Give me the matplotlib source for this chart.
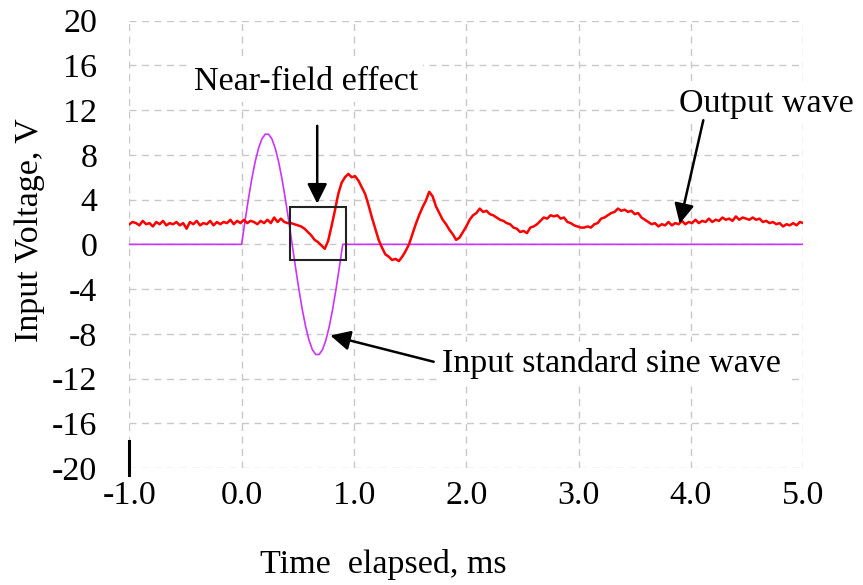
import matplotlib
matplotlib.use("Agg")
import matplotlib.pyplot as plt
import matplotlib.patches as patches
import numpy as np

out_start = -1.0
out_step = 0.03
output_wave = [
    # -1.00 .. -0.01
    1.8, 2.0, 1.9, 1.7, 2.1, 1.8, 1.9, 1.6, 2.0, 1.8,
    2.1, 1.7, 1.9, 1.8, 2.0, 1.7, 1.9, 1.4, 2.0, 1.8,
    2.1, 1.7, 1.9, 1.8, 2.1, 1.7, 2.0, 1.8, 2.0, 1.9,
    2.2, 1.8, 2.1, 1.9,
    # 0.02 .. 0.44
    2.2, 1.9, 2.1, 2.0, 1.8, 2.1, 1.9, 2.2, 1.9, 2.4,
    2.0, 2.3, 2.0, 1.9, 1.9,
    # 0.47 .. 2.30
    1.8, 1.7, 1.6, 1.4, 1.1, 0.8, 0.4, 0.2, -0.1, -0.4,
    0.3, 1.6, 3.0, 4.5, 5.5, 6.0, 6.3, 6.0, 6.1, 5.7,
    5.1, 4.5, 3.5, 2.4, 1.4, 0.4, -0.3, -0.9, -1.1, -1.4,
    -1.3, -1.5, -1.1, -0.6, 0.0, 0.9, 1.8, 2.6, 3.3, 3.9,
    4.7, 4.3, 3.4, 2.8, 2.2, 1.8, 1.3, 0.9, 0.4, 0.6,
    1.1, 1.6, 2.2, 2.6, 2.8, 3.2, 2.9, 3.0, 2.7, 2.6,
    2.4, 2.2,
    # 2.33 .. 5.00
    2.1, 1.9, 1.8, 1.5, 1.4, 1.1, 1.2, 1.0, 1.5, 1.6,
    1.8, 2.1, 2.4, 2.3, 2.6, 2.5, 2.6, 2.3, 2.4, 2.0,
    1.9, 1.7, 1.6, 1.5, 1.5, 1.6, 1.5, 1.8, 1.9, 2.3,
    2.4, 2.6, 2.8, 2.9, 3.2, 3.0, 3.1, 2.9, 3.0, 2.7,
    2.8, 2.4, 2.2, 2.0, 1.8, 1.9, 1.6, 1.8, 1.7, 2.0,
    1.7, 1.9, 1.8, 2.1, 1.8, 2.0, 1.9, 2.2, 1.9, 2.1,
    2.0, 2.3, 2.0, 2.2, 2.1, 2.4, 2.2, 2.3, 2.1, 2.5,
    2.2, 2.4, 2.3, 2.2, 2.4, 2.2, 2.3, 2.0, 2.1, 1.9,
    2.0, 1.8, 1.9, 1.6, 1.8, 1.7, 1.9, 1.7, 2.0, 1.9,
]

# input standard sine wave (one cycle, ~0.9 ms)
input_time = [
    -1.0,
    0.00, 0.03, 0.06, 0.09, 0.12, 0.15, 0.18, 0.21, 0.24, 0.27,
    0.30, 0.33, 0.36, 0.39, 0.42, 0.45, 0.48, 0.51, 0.54, 0.57,
    0.60, 0.63, 0.66, 0.69, 0.72, 0.75, 0.78, 0.81, 0.84, 0.87,
    0.90,
    5.0,
]
input_wave = [
    0.0,
    0.0, 2.06, 4.03, 5.82, 7.36, 8.57, 9.42, 9.85, 9.85, 9.42,
    8.57, 7.36, 5.82, 4.03, 2.06, 0.0, -2.06, -4.03, -5.82, -7.36,
    -8.57, -9.42, -9.85, -9.85, -9.42, -8.57, -7.36, -5.82, -4.03, -2.06,
    0.0,
    0.0,
]

x_ticks = [-1.0, 0.0, 1.0, 2.0, 3.0, 4.0, 5.0]
y_ticks = [-20, -16, -12, -8, -4, 0, 4, 8, 12, 16, 20]

plt.rcParams["font.family"] = ["Liberation Serif", "DejaVu Serif"]
plt.rcParams["axes.unicode_minus"] = False

FS = 24.5
fig = plt.figure(figsize=(8.63, 5.85), dpi=100)
ax = fig.add_axes([0.1498, 0.2, 0.781, 0.7646])

t_out = out_start + out_step * np.arange(len(output_wave))

ax.plot(input_time, input_wave, color="#CC33FF", lw=1.2, zorder=3)
ax.plot(t_out, output_wave, color="#FF0000", lw=1.8, zorder=4)

ax.set_xlim(-1.0, 5.0)
ax.set_ylim(-20, 20)
ax.set_xticks(x_ticks)
ax.set_xticklabels([f"{v:.1f}" for v in x_ticks])
ax.set_yticks(y_ticks)
ax.set_yticklabels([str(v) for v in y_ticks])
ax.tick_params(length=0, labelsize=FS)
ax.tick_params(axis="x", pad=9)
ax.tick_params(axis="y", pad=23)
for s in ax.spines.values():
    s.set_visible(False)
ax.grid(True, color="#C8C8C8", lw=1.0, linestyle=(0, (5, 4)), zorder=0)
ax.set_axisbelow(True)

# short black marker at the bottom-left corner
ax.plot([-1.0, -1.0], [-17.6, -20.6], color="black", lw=2.2, clip_on=False, zorder=5)

# near-field box
rect = patches.Rectangle((0.43, -1.43), 0.498, 4.77, fill=False,
                         edgecolor="#222222", lw=1.5, zorder=6)
ax.add_patch(rect)

arrow_kw = dict(arrowstyle="-|>,head_length=0.6,head_width=0.3", color="black",
                lw=1.8, mutation_scale=20, shrinkA=0, shrinkB=0)
bbox_kw = dict(facecolor="white", edgecolor="none", pad=4)

ax.text(0.572, 14.58, "Near-field effect", fontsize=FS, ha="center", va="center",
        bbox=bbox_kw, zorder=7)
ax.annotate("", xy=(0.673, 3.64), xytext=(0.673, 10.6), arrowprops=arrow_kw, zorder=7)

ax.text(4.674, 12.6, "Output wave", fontsize=FS, ha="center", va="center",
        bbox=bbox_kw, zorder=7, clip_on=False)
ax.annotate("", xy=(3.9, 1.85), xytext=(4.11, 11.1), arrowprops=arrow_kw, zorder=7)

ax.text(3.295, -10.64, "Input standard sine wave", fontsize=FS, ha="center",
        va="center", bbox=bbox_kw, zorder=7)
ax.annotate("", xy=(0.79, -8.15), xytext=(1.71, -10.5), arrowprops=arrow_kw, zorder=7)

fig.text(30 / 863, 1 - 230 / 585, "Input Voltage, V", fontsize=FS, rotation=90,
         ha="center", va="center")
fig.text(383 / 863, 1 - 565 / 585, "Time  elapsed, ms", fontsize=FS,
         ha="center", va="center")

fig.savefig("out.png", dpi=100)
